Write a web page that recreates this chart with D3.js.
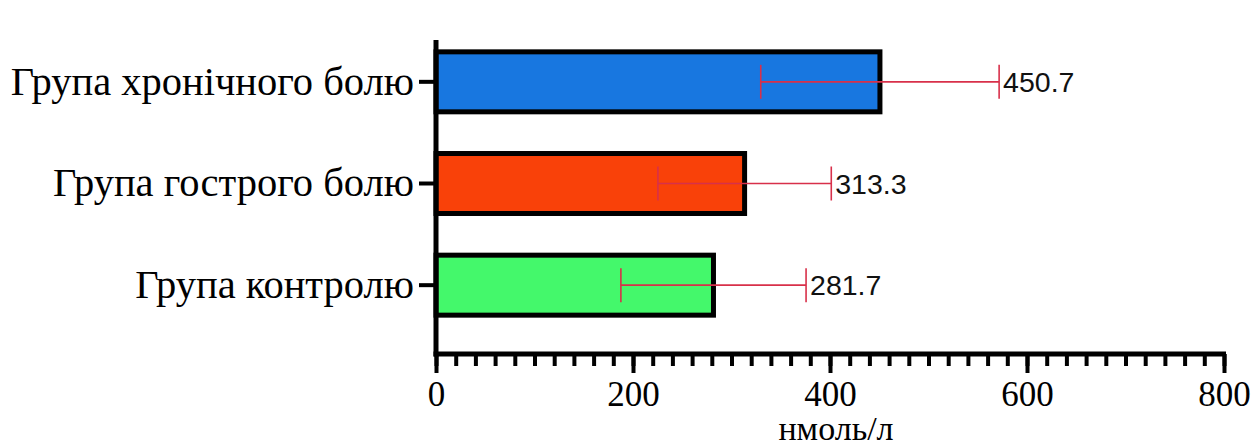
<!DOCTYPE html>
<html>
<head>
<meta charset="utf-8">
<script src="https://cdn.jsdelivr.net/npm/d3@7"></script>
<style>
  html, body { margin: 0; padding: 0; background: #fff; }
  svg { display: block; }
</style>
</head>
<body>
<svg id="chart" width="1260" height="448"></svg>
<script>
// Groups, mean values and spread (nmol/l)
const categories = ["Група хронічного болю", "Група гострого болю", "Група контролю"];
const means = [450.7, 313.3, 281.7];
const spreads = [121, 88, 94];
const barColors = ["#1877e0", "#f94109", "#44f86b"];
const majorTicks = [0, 200, 400, 600, 800];
const minorTicks = d3.range(0, 801, 20);
const axisTitle = "нмоль/л";

const svg = d3.select("#chart");
const x = d3.scaleLinear().domain([0, 800]).range([436, 1224]);
const y = d3.scaleBand().domain(categories).range([31, 336]).paddingInner(0.41).paddingOuter(0.205);
const axisY = 354;

// bars
svg.append("g").selectAll("rect")
  .data(categories)
  .join("rect")
  .attr("x", x(0))
  .attr("y", d => y(d))
  .attr("width", (d, i) => x(means[i]) - x(0))
  .attr("height", y.bandwidth())
  .attr("fill", (d, i) => barColors[i])
  .attr("stroke", "#000")
  .attr("stroke-width", 5);

// error bars
const err = svg.append("g").attr("stroke", "#d8304a").attr("stroke-width", 1.6).attr("fill", "none");
categories.forEach((c, i) => {
  const cy = y(c) + y.bandwidth() / 2;
  const lo = x(means[i] - spreads[i]), hi = x(means[i] + spreads[i]);
  err.append("line").attr("x1", lo).attr("x2", hi).attr("y1", cy).attr("y2", cy);
  err.append("line").attr("x1", lo).attr("x2", lo).attr("y1", cy - 17).attr("y2", cy + 17);
  err.append("line").attr("x1", hi).attr("x2", hi).attr("y1", cy - 17).attr("y2", cy + 17);
});

// value labels
svg.append("g").selectAll("text")
  .data(categories)
  .join("text")
  .attr("x", (d, i) => x(means[i] + spreads[i]) + 4)
  .attr("y", d => y(d) + y.bandwidth() / 2)
  .attr("dy", "0.36em")
  .attr("font-family", "'Liberation Sans', Arial, sans-serif")
  .attr("font-size", 28.5)
  .attr("fill", "#111")
  .text((d, i) => means[i].toFixed(1));

// left axis
const yAxis = svg.append("g")
  .attr("transform", `translate(${x(0)},0)`)
  .call(d3.axisLeft(y).tickSize(17).tickPadding(5));
yAxis.select(".domain").remove();
yAxis.append("line")
  .attr("x1", 0).attr("x2", 0).attr("y1", 40).attr("y2", axisY + 2.5)
  .attr("stroke", "#000").attr("stroke-width", 5);
yAxis.selectAll(".tick line").attr("stroke", "#000").attr("stroke-width", 4);
yAxis.selectAll(".tick text")
  .attr("font-family", "'Liberation Serif', 'Times New Roman', serif")
  .attr("font-size", 40.5)
  .attr("fill", "#000");

// bottom axis: minor ticks every 20, labelled major ticks every 200
const minorAxis = svg.append("g")
  .attr("transform", `translate(0,${axisY})`)
  .call(d3.axisBottom(x).tickValues(minorTicks).tickSize(12).tickFormat(""));
minorAxis.select(".domain").remove();
minorAxis.selectAll(".tick line").attr("stroke", "#000").attr("stroke-width", 4);

const majorAxis = svg.append("g")
  .attr("transform", `translate(0,${axisY})`)
  .call(d3.axisBottom(x).tickValues(majorTicks).tickSize(19).tickSizeOuter(0).tickPadding(8).tickFormat(d3.format("d")));
majorAxis.select(".domain")
  .attr("stroke", "#000").attr("stroke-width", 5)
  .attr("d", `M${x(0) - 2.5},0H${x(800) + 2}`);
majorAxis.selectAll(".tick line").attr("stroke", "#000").attr("stroke-width", 4);
majorAxis.selectAll(".tick text")
  .attr("font-family", "'Liberation Serif', 'Times New Roman', serif")
  .attr("font-size", 35)
  .attr("fill", "#000");

// axis title
svg.append("text")
  .attr("x", x(400) + 6)
  .attr("y", 440)
  .attr("text-anchor", "middle")
  .attr("font-family", "'Liberation Serif', 'Times New Roman', serif")
  .attr("font-size", 34)
  .attr("fill", "#000")
  .text(axisTitle);
</script>
</body>
</html>
